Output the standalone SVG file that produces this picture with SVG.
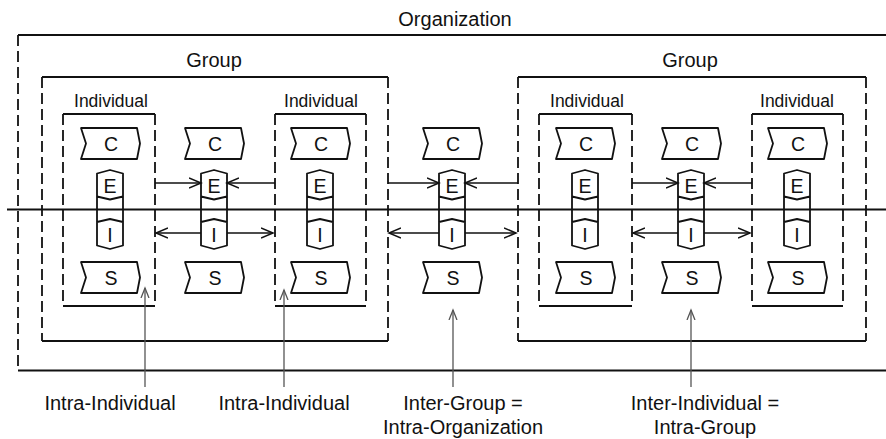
<svg xmlns="http://www.w3.org/2000/svg" width="886" height="439" viewBox="0 0 886 439">
<style>
.solid{fill:none;stroke:#111;stroke-width:1.8}
.dash{fill:none;stroke:#111;stroke-width:1.8;stroke-dasharray:11 5}
.shape{fill:#fff;stroke:#111;stroke-width:1.8;stroke-linejoin:round}
.cap{fill:none;stroke:#111;stroke-width:1.8;stroke-linejoin:round}
.lbl{font-family:"Liberation Sans",Arial,Helvetica,sans-serif;fill:#111;text-anchor:middle}
.t20{font-size:20px}
.t17{font-size:17.5px}
.let{font-size:19.5px}
.conn{fill:none;stroke:#111;stroke-width:1.5}
.ann{fill:none;stroke:#555;stroke-width:1.3}
</style>
<defs>
<marker id="ah" markerWidth="14" markerHeight="12" refX="12" refY="6" orient="auto" markerUnits="userSpaceOnUse"><path d="M0,1 L12,6 L0,11" fill="none" stroke="#111" stroke-width="1.5"/></marker>
<marker id="ag" markerWidth="12" markerHeight="10" refX="10" refY="5" orient="auto" markerUnits="userSpaceOnUse"><path d="M0,1 L10,5 L0,9" fill="none" stroke="#555" stroke-width="1.3"/></marker>
<path id="tag" d="M-29,-15.5 L27,-15.5 L30,0 L27,15.5 L-29,15.5 L-24,0 Z"/>
<path id="pill" d="M-13,173.5 L0,170 L13,173.5 L13,245.5 L0,249 L-13,245.5 Z M-13,196.5 L0,199.5 L13,196.5 M-13,222 L0,219 L13,222"/>
</defs>

<g id="organization">
<path class="solid" d="M18,35 H886 M18,370.5 H886"/>
<path class="dash" d="M18,35 V370"/>
<text class="lbl t20" x="455" y="26">Organization</text>
</g>

<g id="group-1">
<path class="solid" d="M42,77 H388 M42,341 H388"/>
<path class="dash" d="M42,77 V341 M388,77 V341"/>
<text class="lbl t20" x="214" y="67">Group</text>
</g>
<g id="group-2">
<path class="solid" d="M518,77 H866 M518,341 H866"/>
<path class="dash" d="M518,77 V341 M866,77 V341"/>
<text class="lbl t20" x="690" y="67">Group</text>
</g>

<g id="individual-1">
<path class="solid" d="M63,114 H155 M63,306 H155"/>
<path class="dash" d="M63,114 V306 M155,114 V306"/>
<text class="lbl t17" x="111" y="106.5">Individual</text>
</g>
<g id="individual-2">
<path class="solid" d="M275,114 H366 M275,306 H366"/>
<path class="dash" d="M275,114 V306 M366,114 V306"/>
<text class="lbl t17" x="321" y="106.5">Individual</text>
</g>
<g id="individual-3">
<path class="solid" d="M539,114 H632 M539,306 H632"/>
<path class="dash" d="M539,114 V306 M632,114 V306"/>
<text class="lbl t17" x="587" y="106.5">Individual</text>
</g>
<g id="individual-4">
<path class="solid" d="M752,114 H843 M752,306 H843"/>
<path class="dash" d="M752,114 V306 M843,114 V306"/>
<text class="lbl t17" x="797" y="106.5">Individual</text>
</g>

<g id="boundary-line">
<path class="solid" d="M7,209.5 H886" style="stroke-width:2"/>
</g>

<g id="col-1">
<use href="#tag" class="shape" x="110" y="143.5"/><text class="lbl let" x="111" y="150.5">C</text>
<use href="#pill" class="cap" x="110"/><text class="lbl let" x="110" y="192.5">E</text><text class="lbl let" x="110" y="242">I</text>
<use href="#tag" class="shape" x="110" y="277.5"/><text class="lbl let" x="111" y="284.5">S</text>
</g>
<g id="col-2">
<use href="#tag" class="shape" x="214" y="143.5"/><text class="lbl let" x="215" y="150.5">C</text>
<use href="#pill" class="cap" x="214"/><text class="lbl let" x="214" y="192.5">E</text><text class="lbl let" x="214" y="242">I</text>
<use href="#tag" class="shape" x="214" y="277.5"/><text class="lbl let" x="215" y="284.5">S</text>
</g>
<g id="col-3">
<use href="#tag" class="shape" x="320" y="143.5"/><text class="lbl let" x="321" y="150.5">C</text>
<use href="#pill" class="cap" x="320"/><text class="lbl let" x="320" y="192.5">E</text><text class="lbl let" x="320" y="242">I</text>
<use href="#tag" class="shape" x="320" y="277.5"/><text class="lbl let" x="321" y="284.5">S</text>
</g>
<g id="col-4">
<use href="#tag" class="shape" x="452" y="143.5"/><text class="lbl let" x="453" y="150.5">C</text>
<use href="#pill" class="cap" x="452"/><text class="lbl let" x="452" y="192.5">E</text><text class="lbl let" x="452" y="242">I</text>
<use href="#tag" class="shape" x="452" y="277.5"/><text class="lbl let" x="453" y="284.5">S</text>
</g>
<g id="col-5">
<use href="#tag" class="shape" x="585" y="143.5"/><text class="lbl let" x="586" y="150.5">C</text>
<use href="#pill" class="cap" x="585"/><text class="lbl let" x="585" y="192.5">E</text><text class="lbl let" x="585" y="242">I</text>
<use href="#tag" class="shape" x="585" y="277.5"/><text class="lbl let" x="586" y="284.5">S</text>
</g>
<g id="col-6">
<use href="#tag" class="shape" x="691" y="143.5"/><text class="lbl let" x="692" y="150.5">C</text>
<use href="#pill" class="cap" x="691"/><text class="lbl let" x="691" y="192.5">E</text><text class="lbl let" x="691" y="242">I</text>
<use href="#tag" class="shape" x="691" y="277.5"/><text class="lbl let" x="692" y="284.5">S</text>
</g>
<g id="col-7">
<use href="#tag" class="shape" x="797" y="143.5"/><text class="lbl let" x="798" y="150.5">C</text>
<use href="#pill" class="cap" x="797"/><text class="lbl let" x="797" y="192.5">E</text><text class="lbl let" x="797" y="242">I</text>
<use href="#tag" class="shape" x="797" y="277.5"/><text class="lbl let" x="798" y="284.5">S</text>
</g>

<g id="connectors">
<path class="conn" marker-end="url(#ah)" d="M155,183 H201"/>
<path class="conn" marker-end="url(#ah)" d="M275,183 H227"/>
<path class="conn" marker-end="url(#ah)" d="M201,233 H156"/>
<path class="conn" marker-end="url(#ah)" d="M227,233 H273"/>
<path class="conn" marker-end="url(#ah)" d="M388,183 H439"/>
<path class="conn" marker-end="url(#ah)" d="M518,183 H465"/>
<path class="conn" marker-end="url(#ah)" d="M439,233 H389"/>
<path class="conn" marker-end="url(#ah)" d="M465,233 H516"/>
<path class="conn" marker-end="url(#ah)" d="M632,183 H678"/>
<path class="conn" marker-end="url(#ah)" d="M752,183 H704"/>
<path class="conn" marker-end="url(#ah)" d="M678,233 H633"/>
<path class="conn" marker-end="url(#ah)" d="M704,233 H750"/>
<path class="ann" marker-end="url(#ag)" d="M145,387 V288"/>
<path class="ann" marker-end="url(#ag)" d="M284,387 V290"/>
<path class="ann" marker-end="url(#ag)" d="M453,387 V310"/>
<path class="ann" marker-end="url(#ag)" d="M691,387 V310"/>
</g>

<g id="labels">
<text class="lbl t20" x="110" y="410">Intra-Individual</text>
<text class="lbl t20" x="284" y="410">Intra-Individual</text>
<text class="lbl t20" x="463" y="410">Inter-Group =</text>
<text class="lbl t20" x="463" y="434">Intra-Organization</text>
<text class="lbl t20" x="705" y="410">Inter-Individual =</text>
<text class="lbl t20" x="705" y="434">Intra-Group</text>
</g>
</svg>
